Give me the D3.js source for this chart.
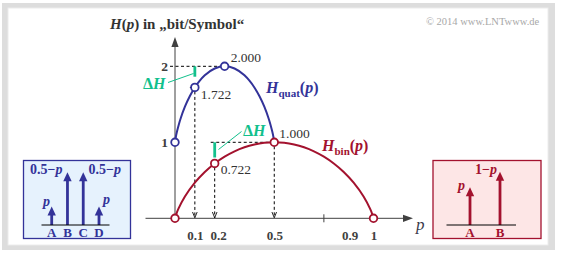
<!DOCTYPE html>
<html><head><meta charset="utf-8">
<script src="https://cdn.jsdelivr.net/npm/d3@7"></script>
<style>html,body{margin:0;padding:0;background:#fff;}svg{display:block;}svg text{font-family:"Liberation Serif","Times New Roman",Times,serif !important;}</style>
</head><body>
<script>
// ---- data ----
const quatP = [0, 0.0025, 0.005, 0.01, 0.02, 0.03, 0.05, 0.075, 0.1, 0.125, 0.15, 0.2, 0.25, 0.3, 0.35, 0.375, 0.4, 0.425, 0.45, 0.47, 0.48, 0.49, 0.495, 0.4975, 0.5];
const quatH = [1, 1.045, 1.081, 1.141, 1.242, 1.327, 1.469, 1.610, 1.722, 1.811, 1.881, 1.971, 2.0, 1.971, 1.881, 1.811, 1.722, 1.610, 1.469, 1.327, 1.242, 1.141, 1.081, 1.045, 1];
const binP = [0, 0.005, 0.01, 0.02, 0.05, 0.1, 0.15, 0.2, 0.25, 0.3, 0.35, 0.4, 0.45, 0.5, 0.55, 0.6, 0.65, 0.7, 0.75, 0.8, 0.85, 0.9, 0.95, 0.98, 0.99, 0.995, 1];
const binH = [0, 0.045, 0.081, 0.141, 0.286, 0.469, 0.610, 0.722, 0.811, 0.881, 0.934, 0.971, 0.993, 1.0, 0.993, 0.971, 0.934, 0.881, 0.811, 0.722, 0.610, 0.469, 0.286, 0.141, 0.081, 0.045, 0];
const quatMarkP = [0, 0.1, 0.25];
const quatMarkH = [1, 1.722, 2.0];
const binMarkP = [0, 0.2, 0.5, 1];
const binMarkH = [0, 0.722, 1.0, 0];
const valueLabels = ["2.000", "1.722", "1.000", "0.722"];
const valueLabelP = [0.25, 0.1, 0.5, 0.2];
const valueLabelH = [2.0, 1.722, 1.0, 0.722];
const xTickLabels = ["0.1", "0.2", "0.5", "0.9", "1"];
const xTickLabelPos = [0.1, 0.217, 0.5, 0.88, 1];
const xTickMarks = [0.75];
const yTickLabels = ["1", "2"];
const yTickValues = [1, 2];
const quatSymbols = ["A", "B", "C", "D"];
const quatProbs = [0.13, 0.37, 0.37, 0.13];
const binSymbols = ["A", "B"];
const binProbs = [0.415, 0.585];

// ---- setup ----
const W = 562, H = 256;
const blue = "#333399", red = "#a3122e", green = "#12c08c", axisCol = "#404040", txt = "#333333";
const FONT = "Liberation Serif, Times New Roman, serif";
const svg = d3.select("body").append("svg").attr("width", W).attr("height", H).attr("font-family", FONT);

// frame
svg.append("rect").attr("x", 2).attr("y", 3).attr("width", 553).attr("height", 247).attr("fill", "#dddddd");
svg.append("rect").attr("x", 8).attr("y", 8).attr("width", 540).attr("height", 237).attr("fill", "#fff").attr("stroke", "#ececec").attr("stroke-width", 1);

const x = d3.scaleLinear().domain([0, 1]).range([175, 373.5]);
const y = d3.scaleLinear().domain([0, 2]).range([218.3, 66.3]);

const defs = svg.append("defs");
defs.append("marker").attr("id", "vhead").attr("viewBox", "0 0 10 10").attr("refX", 10).attr("refY", 5)
  .attr("markerWidth", 6).attr("markerHeight", 6).attr("markerUnits", "userSpaceOnUse").attr("orient", "auto")
  .append("path").attr("d", "M0,1 L10,5 L0,9").attr("fill", "none").attr("stroke", "#000").attr("stroke-width", 1.4);

// copyright
svg.append("text").attr("x", 426).attr("y", 25).attr("font-size", 10.5).attr("fill", "#a8a8a8").text("© 2014 www.LNTwww.de");

// axes lines with arrowheads
const ax = svg.append("g");
ax.append("line").attr("x1", x(0)).attr("y1", y(0)).attr("x2", x(0)).attr("y2", 46).attr("stroke", axisCol).attr("stroke-width", 1);
ax.append("path").attr("d", `M${x(0)},37 L${x(0)-3.6},47 L${x(0)+3.6},47 Z`).attr("fill", axisCol);
ax.append("line").attr("x1", 145.5).attr("y1", y(0)).attr("x2", 404).attr("y2", y(0)).attr("stroke", axisCol).attr("stroke-width", 1);
ax.append("path").attr("d", `M413,${y(0)} L403,${y(0)-3.6} L403,${y(0)+3.6} Z`).attr("fill", axisCol);

// x tick marks
xTickMarks.forEach(v => {
  ax.append("line").attr("x1", x(v)).attr("x2", x(v)).attr("y1", y(0) - 4).attr("y2", y(0) + 4).attr("stroke", axisCol);
});

// x tick labels via d3 axis
const xLab = svg.append("g").attr("transform", `translate(0,${y(0)})`)
  .call(d3.axisBottom(x).tickValues(xTickLabelPos).tickFormat((d, i) => xTickLabels[i]).tickSize(0).tickPadding(12));
xLab.attr("font-family", FONT);
xLab.select(".domain").remove();
xLab.selectAll("text").attr("font-size", 13).attr("font-weight", "bold").attr("fill", axisCol);

// y tick labels via d3 axis
const yLab = svg.append("g").attr("transform", `translate(${x(0)},0)`)
  .call(d3.axisLeft(y).tickValues(yTickValues).tickFormat((d, i) => yTickLabels[i]).tickSize(0).tickPadding(7));
yLab.attr("font-family", FONT);
yLab.select(".domain").remove();
yLab.selectAll("text").attr("font-size", 13.5).attr("font-weight", "bold").attr("fill", axisCol);

// axis titles
const yt = svg.append("text").attr("x", 110).attr("y", 29).attr("font-size", 15).attr("font-weight", "bold").attr("fill", txt);
yt.append("tspan").attr("font-style", "italic").text("H");
yt.append("tspan").text("(");
yt.append("tspan").attr("font-style", "italic").text("p");
yt.append("tspan").text(") in „bit/Symbol“");
svg.append("text").attr("x", 416).attr("y", 230).attr("font-size", 17).attr("font-style", "italic").attr("fill", "#3a3a4a").text("p");

// dashed helper lines
const dash = "3,2.5";
const g = svg.append("g").attr("stroke", "#000").attr("stroke-width", 1).attr("fill", "none");
g.append("line").attr("x1", x(0) - 5).attr("x2", x(0.25)).attr("y1", y(2)).attr("y2", y(2)).attr("stroke-dasharray", dash);
g.append("line").attr("x1", x(0.18)).attr("x2", x(0.5)).attr("y1", y(1)).attr("y2", y(1)).attr("stroke-dasharray", dash);
g.append("line").attr("x1", x(0.075)).attr("x2", x(0.093)).attr("y1", y(1.722)).attr("y2", y(1.722));
[[0.1, 1.722], [0.2, 0.722], [0.5, 1.0]].forEach(([p, h]) => {
  g.append("line").attr("x1", x(p)).attr("x2", x(p)).attr("y1", y(h) + 4).attr("y2", y(0) - 0.5)
    .attr("stroke-dasharray", dash).attr("marker-end", "url(#vhead)");
});

// curves
const line = d3.line().x(d => x(d[0])).y(d => y(d[1])).curve(d3.curveMonotoneX);
svg.append("path").attr("d", line(binP.map((p, i) => [p, binH[i]]))).attr("fill", "none").attr("stroke", red).attr("stroke-width", 2);
svg.append("path").attr("d", line(quatP.map((p, i) => [p, quatH[i]]))).attr("fill", "none").attr("stroke", blue).attr("stroke-width", 2);

// delta H markers
function deltaH(p, hTop, hBot, lx1, ly1, lx2, ly2, tx, ty) {
  svg.append("line").attr("x1", x(p)).attr("x2", x(p)).attr("y1", y(hTop)).attr("y2", y(hBot)).attr("stroke", green).attr("stroke-width", 2.8);
  svg.append("line").attr("x1", lx1).attr("y1", ly1).attr("x2", lx2).attr("y2", ly2).attr("stroke", green).attr("stroke-width", 1);
  const t = svg.append("text").attr("x", tx).attr("y", ty).attr("font-size", 16).attr("font-weight", "bold").attr("fill", green);
  t.append("tspan").text("Δ");
  t.append("tspan").attr("font-style", "italic").text("H");
}
deltaH(0.1, 2.0, 1.863, 168, 82.5, 193.5, 73.5, 143, 88.5);
deltaH(0.2, 1.0, 0.8, 218.5, 149.5, 241.5, 131.5, 243, 136);

// markers
svg.append("g").selectAll("circle").data(binMarkP).join("circle")
  .attr("cx", d => x(d)).attr("cy", (d, i) => y(binMarkH[i])).attr("r", 3.8)
  .attr("fill", "#fff").attr("stroke", red).attr("stroke-width", 1.8);
svg.append("g").selectAll("circle").data(quatMarkP).join("circle")
  .attr("cx", d => x(d)).attr("cy", (d, i) => y(quatMarkH[i])).attr("r", 3.8)
  .attr("fill", "#fff").attr("stroke", blue).attr("stroke-width", 1.8);

// value labels
const vOff = [[6, -4.5], [6, 12], [5, -4], [6, 10.5]];
svg.append("g").selectAll("text").data(valueLabels).join("text")
  .attr("x", (d, i) => x(valueLabelP[i]) + vOff[i][0]).attr("y", (d, i) => y(valueLabelH[i]) + vOff[i][1])
  .attr("font-size", 13.5).attr("fill", txt).text(d => d);

// curve names
function curveName(xx, yy, sub, col) {
  const t = svg.append("text").attr("x", xx).attr("y", yy).attr("font-size", 16).attr("font-weight", "bold").attr("fill", col);
  t.append("tspan").attr("font-style", "italic").text("H");
  t.append("tspan").attr("font-size", 11).attr("dy", 4).text(sub);
  t.append("tspan").attr("dy", -4).text("(");
  t.append("tspan").attr("font-style", "italic").text("p");
  t.append("tspan").text(")");
}
curveName(266, 93, "quat", blue);
curveName(322, 151, "bin", red);

// ---- insets ----
function arrow(gr, xx, yBase, yTip, col) {
  gr.append("line").attr("x1", xx).attr("x2", xx).attr("y1", yBase).attr("y2", yTip + 8).attr("stroke", col).attr("stroke-width", 2.8);
  gr.append("path").attr("d", `M${xx},${yTip} L${xx - 4.2},${yTip + 9} L${xx + 4.2},${yTip + 9} Z`).attr("fill", col);
}

// left (quaternary)
const L = svg.append("g");
L.append("rect").attr("x", 23.5).attr("y", 160.5).attr("width", 107).attr("height", 78).attr("fill", "#e6f2fd").attr("stroke", blue).attr("stroke-width", 1.3);
const xq = d3.scalePoint().domain(quatSymbols).range([51.7, 99]);
const yq = d3.scaleLinear().domain([0, 0.37]).range([225, 172.3]);
quatSymbols.forEach((s, i) => arrow(L, xq(s), 225, yq(quatProbs[i]), blue));
L.append("line").attr("x1", 41.5).attr("x2", 109.5).attr("y1", 225).attr("y2", 225).attr("stroke", "#000").attr("stroke-width", 1.2);
L.selectAll("text.sym").data(quatSymbols).join("text").attr("class", "sym")
  .attr("x", d => xq(d)).attr("y", 237).attr("text-anchor", "middle").attr("font-size", 13).attr("font-weight", "bold").attr("fill", blue).text(d => d);
function probLabel(gr, xx, yy, pre, col, anchor) {
  const t = gr.append("text").attr("x", xx).attr("y", yy).attr("font-size", 14).attr("font-weight", "bold").attr("fill", col).attr("text-anchor", anchor || "start");
  if (pre) t.append("tspan").text(pre);
  t.append("tspan").attr("font-style", "italic").text("p");
}
probLabel(L, 30, 174, "0.5−", blue);
probLabel(L, 88.5, 174, "0.5−", blue);
probLabel(L, 43, 206, "", blue);
probLabel(L, 103, 204, "", blue);

// right (binary)
const R = svg.append("g");
R.append("rect").attr("x", 433).attr("y", 160.5).attr("width", 108).attr("height", 78).attr("fill", "#fde6e6").attr("stroke", red).attr("stroke-width", 1.3);
const xb = d3.scalePoint().domain(binSymbols).range([470, 500]);
const yb = d3.scaleLinear().domain([0, 0.585]).range([225, 171.7]);
binSymbols.forEach((s, i) => arrow(R, xb(s), 225, yb(binProbs[i]), red));
R.append("line").attr("x1", 446.5).attr("x2", 516).attr("y1", 225).attr("y2", 225).attr("stroke", "#000").attr("stroke-width", 1.2);
R.selectAll("text.sym").data(binSymbols).join("text").attr("class", "sym")
  .attr("x", d => xb(d)).attr("y", 237).attr("text-anchor", "middle").attr("font-size", 13).attr("font-weight", "bold").attr("fill", red).text(d => d);
probLabel(R, 458, 190, "", red);
probLabel(R, 475, 174, "1−", red);
</script>
</body></html>
